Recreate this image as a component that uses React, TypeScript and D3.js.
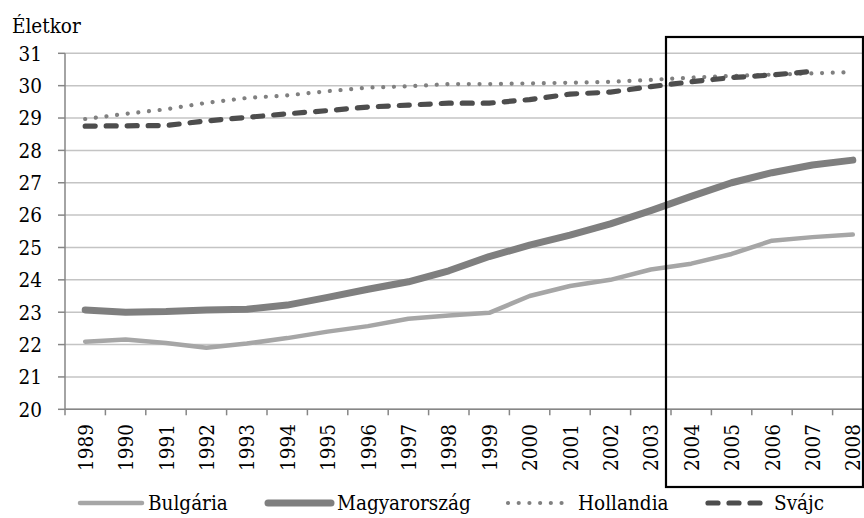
import React from "react";
import * as d3 from "d3";

const years = ["1989","1990","1991","1992","1993","1994","1995","1996","1997","1998","1999","2000","2001","2002","2003","2004","2005","2006","2007","2008"];
const bulgaria = [22.09,22.16,22.05,21.9,22.03,22.2,22.4,22.57,22.8,22.9,22.98,23.5,23.81,24.0,24.32,24.5,24.8,25.21,25.32,25.4];
const magyar = [23.07,23.0,23.02,23.07,23.09,23.22,23.46,23.71,23.94,24.28,24.72,25.07,25.38,25.73,26.14,26.58,27.0,27.31,27.55,27.7];
const hollandia = [28.97,29.13,29.27,29.47,29.62,29.7,29.83,29.94,29.98,30.05,30.05,30.07,30.09,30.12,30.18,30.25,30.3,30.34,30.38,30.42];
const svajc: (number | null)[] = [28.75,28.76,28.77,28.91,29.02,29.13,29.23,29.34,29.4,29.46,29.46,29.57,29.74,29.8,29.97,30.12,30.25,30.33,30.44,null];
const yTicks = [20,21,22,23,24,25,26,27,28,29,30,31];
const highlight = ["2004", "2008"];
const legendNames = ["Bulgária", "Magyarország", "Hollandia", "Svájc"];

const FONT = "'DejaVu Serif Condensed', 'DejaVu Serif', serif";
const tStyle = { fontFamily: FONT, fontStretch: "condensed" as const };
const FS = 20.5;

export default function App() {
  const W = 864, H = 518;
  const x = d3.scaleBand<string>().domain(years).range([65, 873]).padding(0);
  const y = d3.scaleLinear().domain([20, 31]).range([409.3, 53.3]);
  const cx = (yr: string) => (x(yr) as number) + x.bandwidth() / 2;

  const line = d3.line<number | null>()
    .defined((d) => d !== null)
    .x((_, i) => cx(years[i]))
    .y((d) => y(d as number));

  const series = [
    { name: legendNames[0], data: bulgaria, color: "#a6a6a6", width: 4.5, dash: undefined as string | undefined },
    { name: legendNames[1], data: magyar, color: "#7f7f7f", width: 7, dash: undefined },
    { name: legendNames[2], data: hollandia, color: "#808080", width: 4.2, dash: "0.01 10.7" },
    { name: legendNames[3], data: svajc, color: "#4d4d4d", width: 5.2, dash: "10 11" },
  ];

  const boxX0 = x(highlight[0]) as number;
  const legendItems = [
    { lx: 80, tx: 148 },
    { lx: 268, tx: 337 },
    { lx: 508, tx: 578 },
    { lx: 708, tx: 774 },
  ];
  const legendY = 503;

  return (
    <svg width={W} height={H} style={{ position: "absolute", left: 0, top: 0, background: "#fff", fontFamily: FONT }}>
      <rect x={0} y={0} width={W} height={H} fill="#fff" />
      {yTicks.map((t) => (
        <line key={"g" + t} x1={65} x2={873} y1={y(t)} y2={y(t)} stroke="#c4c4c4" strokeWidth={1.5} />
      ))}
      <line x1={65} x2={65} y1={y(31)} y2={y(20)} stroke="#868686" strokeWidth={1.5} />
      {yTicks.map((t) => (
        <g key={"yt" + t}>
          <line x1={58} x2={65} y1={y(t)} y2={y(t)} stroke="#868686" strokeWidth={1.5} />
          <text x={42} y={y(t)} dy="0.36em" textAnchor="end" fontSize={FS} fill="#000" style={tStyle}>{t}</text>
        </g>
      ))}
      <line x1={65} x2={873} y1={y(20)} y2={y(20)} stroke="#868686" strokeWidth={1.5} />
      {years.map((yr) => (
        <line key={"xt" + yr} x1={x(yr) as number} x2={x(yr) as number} y1={y(20)} y2={y(20) + 6} stroke="#868686" strokeWidth={1.5} />
      ))}
      {years.map((yr) => (
        <text key={"xl" + yr} transform={`translate(${cx(yr) + 7.5},424) rotate(-90)`} textAnchor="end" fontSize={FS} fill="#000" style={tStyle}>{yr}</text>
      ))}
      <text x={12} y={33} fontSize={FS} fill="#000" style={tStyle}>Életkor</text>
      {series.map((s) => (
        <path key={s.name} d={line(s.data as (number | null)[]) || ""} fill="none" stroke={s.color} strokeWidth={s.width}
          strokeDasharray={s.dash} strokeLinecap="round" strokeLinejoin="round" />
      ))}
      <rect x={boxX0 - 5} y={37} width={863 - (boxX0 - 5)} height={487 - 37} fill="none" stroke="#000" strokeWidth={2.2} />
      {series.map((s, i) => (
        <g key={"lg" + s.name}>
          <line x1={legendItems[i].lx} x2={legendItems[i].tx - 6} y1={legendY} y2={legendY} stroke={s.color} strokeWidth={s.width}
            strokeDasharray={s.dash} strokeLinecap="round" />
          <text x={legendItems[i].tx} y={legendY} dy="0.36em" fontSize={FS} fill="#000" style={tStyle}>{s.name}</text>
        </g>
      ))}
    </svg>
  );
}
